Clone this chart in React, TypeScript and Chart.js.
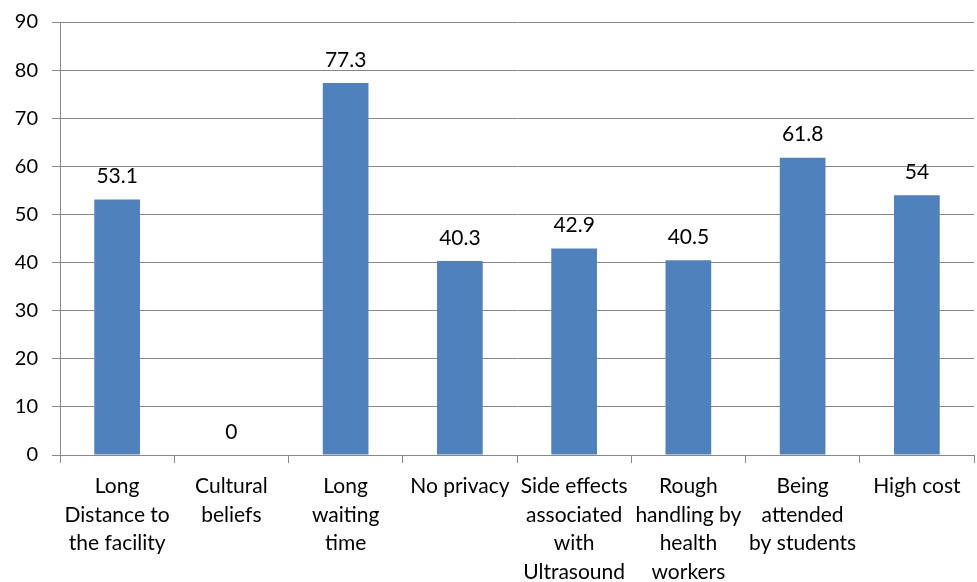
import React, { useEffect, useRef } from "react";
import { Chart, registerables } from "chart.js";

Chart.register(...registerables);

const categories: string[][] = [
  ["Long", "Distance to", "the facility"],
  ["Cultural", "beliefs"],
  ["Long", "waiting", "time"],
  ["No privacy"],
  ["Side effects", "associated", "with", "Ultrasound"],
  ["Rough", "handling by", "health", "workers"],
  ["Being", "attended", "by students"],
  ["High cost"],
];
const values: number[] = [53.1, 0, 77.3, 40.3, 42.9, 40.5, 61.8, 54];
const yTicks: number[] = [0, 10, 20, 30, 40, 50, 60, 70, 80, 90];

const FONT = "Lato, 'Open Sans', sans-serif";
const GRID = "#888888";

const valueLabels = {
  id: "valueLabels",
  afterDatasetsDraw(chart: any) {
    const ctx = chart.ctx;
    const meta = chart.getDatasetMeta(0);
    ctx.save();
    ctx.font = `21px ${FONT}`;
    ctx.fillStyle = "#000000";
    ctx.textAlign = "center";
    ctx.textBaseline = "middle";
    meta.data.forEach((bar: any, i: number) => {
      ctx.fillText(String(values[i]), bar.x, bar.y - 23);
    });
    ctx.restore();
  },
};

export default function App() {
  const ref = useRef<HTMLCanvasElement>(null);
  useEffect(() => {
    document.body.style.margin = "0";
    const chart = new Chart(ref.current!, {
      type: "bar",
      data: {
        labels: categories,
        datasets: [
          {
            data: values,
            backgroundColor: "#4F81BD",
            borderWidth: 0,
            barPercentage: 0.4,
            categoryPercentage: 1,
          },
        ],
      },
      options: {
        animation: false,
        responsive: false,
        maintainAspectRatio: false,
        layout: { padding: { top: 22, right: 3, left: 0, bottom: 0 } },
        plugins: { legend: { display: false }, tooltip: { enabled: false } },
        scales: {
          x: {
            offset: true,
            grid: {
              offset: true,
              drawOnChartArea: false,
              drawTicks: true,
              tickLength: 8,
              color: GRID,
            },
            border: { color: GRID, width: 1 },
            ticks: {
              color: "#000000",
              font: { family: FONT, size: 21, lineHeight: 1.36 },
              maxRotation: 0,
              autoSkip: false,
              padding: 9,
            },
            afterFit: (s: any) => {
              s.height = 127;
              s.paddingLeft = 0;
              s.paddingRight = 0;
            },
          },
          y: {
            min: 0,
            max: 90,
            afterBuildTicks: (s: any) => {
              s.ticks = yTicks.map((v) => ({ value: v }));
            },
            grid: { color: GRID, tickLength: 8 },
            border: { color: GRID, width: 1 },
            ticks: {
              color: "#000000",
              font: { family: FONT, size: 20 },
              padding: 14,
            },
            afterFit: (s: any) => {
              s.width = 60;
              s.paddingTop = 0;
              s.paddingBottom = 0;
            },
          },
        },
      },
      plugins: [valueLabels],
    });
    return () => chart.destroy();
  }, []);
  return (
    <div style={{ width: 977, height: 582 }}>
      <canvas ref={ref} width={977} height={582} style={{ display: "block" }} />
    </div>
  );
}
